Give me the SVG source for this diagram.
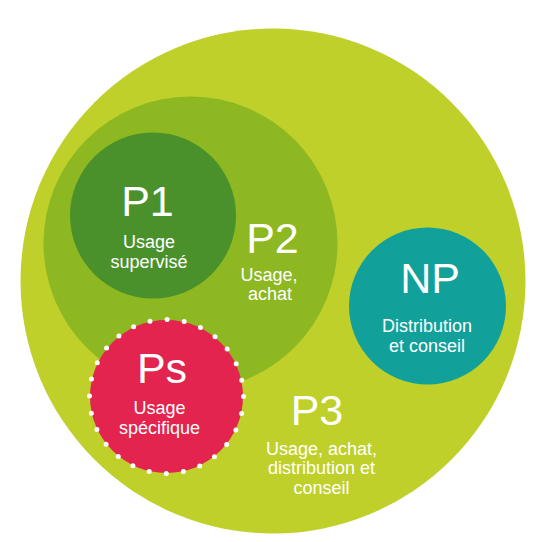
<svg xmlns="http://www.w3.org/2000/svg" width="533" height="542" viewBox="0 0 533 542">
<style>
.t{font-family:"Liberation Sans",Arial,sans-serif;fill:#ffffff;text-anchor:middle}
.big{font-size:43px}
.sm{font-size:18px}
</style>
<rect width="533" height="542" fill="#ffffff"/>
<g id="P3">
<circle cx="273" cy="281" r="252.5" fill="#BFD02A"/>
<text class="t big" x="317" y="425">P3</text>
<text class="t sm" x="321.5" y="455">Usage, achat,</text>
<text class="t sm" x="321.5" y="474">distribution et</text>
<text class="t sm" x="321.5" y="493.5">conseil</text>
</g>
<g id="P2">
<circle cx="190.5" cy="243.5" r="147" fill="#8DB821"/>
<text class="t big" x="272.5" y="253">P2</text>
<text class="t sm" x="269" y="281">Usage,</text>
<text class="t sm" x="270" y="300">achat</text>
</g>
<g id="P1">
<circle cx="153" cy="215.5" r="83" fill="#4A912C"/>
<text class="t big" x="147.5" y="215.5">P1</text>
<text class="t sm" x="149" y="248">Usage</text>
<text class="t sm" x="149" y="268">supervisé</text>
</g>
<g id="NP">
<circle cx="427.5" cy="306" r="78.5" fill="#12A09A"/>
<text class="t big" x="430" y="293">NP</text>
<text class="t sm" x="427" y="332">Distribution</text>
<text class="t sm" x="427" y="352">et conseil</text>
</g>
<g id="Ps">
<circle cx="166.5" cy="396.5" r="76.5" fill="#E2244E"/>
<circle cx="166.5" cy="396.5" r="77" fill="none" stroke="#ffffff" stroke-width="5" stroke-linecap="round" stroke-dasharray="0 17.28"/>
<text class="t big" x="162" y="383">Ps</text>
<text class="t sm" x="159.5" y="414">Usage</text>
<text class="t sm" x="159.5" y="434">spécifique</text>
</g>
<g id="connectors"></g>
</svg>
